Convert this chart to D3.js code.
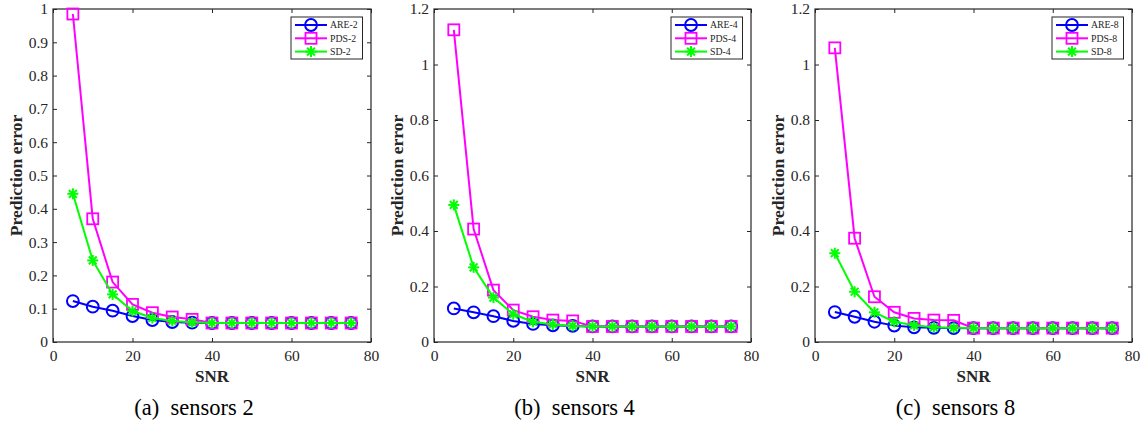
<!DOCTYPE html>
<html>
<head>
<meta charset="utf-8">
<script src="https://cdn.jsdelivr.net/npm/d3@7"></script>
<style>
  body { margin: 0; background: #fff; }
</style>
</head>
<body>
<svg id="fig" width="1146" height="424"></svg>
<script>
// x values shared by every panel
const snr = [5, 10, 15, 20, 25, 30, 35, 40, 45, 50, 55, 60, 65, 70, 75];
const xTicks = [0, 20, 40, 60, 80];

// (a) sensors 2
const are2 = [0.123, 0.106, 0.094, 0.078, 0.066, 0.060, 0.058, 0.057, 0.057, 0.057, 0.057, 0.057, 0.057, 0.057, 0.057];
const pds2 = [0.985, 0.37, 0.18, 0.113, 0.088, 0.075, 0.068, 0.057, 0.057, 0.057, 0.057, 0.057, 0.057, 0.057, 0.057];
const sd2  = [0.445, 0.245, 0.143, 0.093, 0.072, 0.063, 0.059, 0.057, 0.057, 0.057, 0.057, 0.057, 0.057, 0.057, 0.057];
// (b) sensors 4
const are4 = [0.121, 0.107, 0.093, 0.076, 0.065, 0.060, 0.058, 0.056, 0.056, 0.056, 0.056, 0.056, 0.056, 0.056, 0.056];
const pds4 = [1.125, 0.407, 0.187, 0.115, 0.091, 0.079, 0.076, 0.056, 0.056, 0.056, 0.056, 0.056, 0.056, 0.056, 0.056];
const sd4  = [0.494, 0.269, 0.160, 0.100, 0.073, 0.063, 0.058, 0.056, 0.056, 0.056, 0.056, 0.056, 0.056, 0.056, 0.056];
// (c) sensors 8
const are8 = [0.108, 0.091, 0.073, 0.059, 0.053, 0.051, 0.050, 0.050, 0.050, 0.050, 0.050, 0.050, 0.050, 0.050, 0.050];
const pds8 = [1.06, 0.374, 0.163, 0.107, 0.085, 0.079, 0.078, 0.050, 0.050, 0.050, 0.050, 0.050, 0.050, 0.050, 0.050];
const sd8  = [0.32, 0.181, 0.107, 0.073, 0.060, 0.053, 0.051, 0.050, 0.050, 0.050, 0.050, 0.050, 0.050, 0.050, 0.050];

const yTicks1 = [0, 0.1, 0.2, 0.3, 0.4, 0.5, 0.6, 0.7, 0.8, 0.9, 1];
const yTicks2 = [0, 0.2, 0.4, 0.6, 0.8, 1, 1.2];

const panels = [
  { left: 53, right: 371, ymax: 1, yTicks: yTicks1, n: 2, caption: "(a)\u00a0 sensors 2", series: [are2, pds2, sd2] },
  { left: 434, right: 751, ymax: 1.2, yTicks: yTicks2, n: 4, caption: "(b)\u00a0 sensors 4", series: [are4, pds4, sd4] },
  { left: 815, right: 1132, ymax: 1.2, yTicks: yTicks2, n: 8, caption: "(c)\u00a0 sensors 8", series: [are8, pds8, sd8] }
];

const names = ["ARE", "PDS", "SD"];
const colors = ["#0000ff", "#ff00ff", "#00ff00"];
const markers = ["circle", "square", "star"];

const plotTop = 9, plotBottom = 342;
const axisColor = "#262626";
const serif = "Liberation Serif";
const svg = d3.select("#fig");

function drawMarker(g, type, cx, cy, color) {
  if (type === "circle") {
    g.append("circle").attr("cx", cx).attr("cy", cy).attr("r", 5.9)
      .attr("fill", "none").attr("stroke", color).attr("stroke-width", 2);
  } else if (type === "square") {
    g.append("rect").attr("x", cx - 5.5).attr("y", cy - 5.5).attr("width", 11).attr("height", 11)
      .attr("fill", "none").attr("stroke", color).attr("stroke-width", 1.8);
  } else {
    const r = 5.5;
    for (let a = 0; a < 180; a += 45) {
      const t = a * Math.PI / 180;
      g.append("line")
        .attr("x1", cx - r * Math.cos(t)).attr("y1", cy - r * Math.sin(t))
        .attr("x2", cx + r * Math.cos(t)).attr("y2", cy + r * Math.sin(t))
        .attr("stroke", color).attr("stroke-width", 2);
    }
  }
}

panels.forEach(p => {
  const x = d3.scaleLinear().domain([0, 80]).range([p.left, p.right]);
  const y = d3.scaleLinear().domain([0, p.ymax]).range([plotBottom, plotTop]);
  const g = svg.append("g");

  // box
  g.append("rect").attr("x", p.left).attr("y", plotTop)
    .attr("width", p.right - p.left).attr("height", plotBottom - plotTop)
    .attr("fill", "#fff").attr("stroke", axisColor).attr("stroke-width", 1.2);

  // axes with inward ticks
  const fmt = d => String(+d.toFixed(1));
  const ax = [
    g.append("g").attr("transform", `translate(0,${plotBottom})`).call(d3.axisBottom(x).tickValues(xTicks).tickSizeInner(-4).tickSizeOuter(0).tickPadding(8)),
    g.append("g").attr("transform", `translate(0,${plotTop})`).call(d3.axisTop(x).tickValues(xTicks).tickSizeInner(-4).tickSizeOuter(0).tickFormat("")),
    g.append("g").attr("transform", `translate(${p.left},0)`).call(d3.axisLeft(y).tickValues(p.yTicks).tickSizeInner(-4).tickSizeOuter(0).tickPadding(5).tickFormat(fmt)),
    g.append("g").attr("transform", `translate(${p.right},0)`).call(d3.axisRight(y).tickValues(p.yTicks).tickSizeInner(-4).tickSizeOuter(0).tickFormat(""))
  ];
  ax.forEach(a => {
    a.select(".domain").remove();
    a.selectAll("line").attr("stroke", axisColor);
    a.selectAll("text").attr("fill", axisColor)
      .style("font-family", serif).style("font-size", "15.5px");
  });

  // series
  p.series.forEach((vals, i) => {
    const pts = snr.map((s, k) => [x(s), y(vals[k])]);
    g.append("path").attr("d", d3.line()(pts)).attr("fill", "none")
      .attr("stroke", colors[i]).attr("stroke-width", 2);
    pts.forEach(pt => drawMarker(g, markers[i], pt[0], pt[1], colors[i]));
  });

  // axis titles
  g.append("text").attr("x", (p.left + p.right) / 2).attr("y", 382)
    .attr("text-anchor", "middle").attr("fill", axisColor)
    .style("font-family", serif).style("font-weight", "bold").style("font-size", "17px")
    .text("SNR");
  g.append("text").attr("transform", `translate(${p.left - 31},${(plotTop + plotBottom) / 2}) rotate(-90)`)
    .attr("text-anchor", "middle").attr("fill", axisColor)
    .style("font-family", serif).style("font-weight", "bold").style("font-size", "17.5px")
    .text("Prediction error");

  // caption
  g.append("text").attr("x", (p.left + p.right) / 2 - 18).attr("y", 415)
    .attr("text-anchor", "middle").attr("fill", "#000")
    .style("font-family", serif).style("font-size", "22.5px")
    .text(p.caption);

  // legend
  const lx = p.right - 80, ly = 17;
  const lg = g.append("g");
  lg.append("rect").attr("x", lx).attr("y", ly).attr("width", 71.5).attr("height", 42)
    .attr("fill", "#fff").attr("stroke", axisColor).attr("stroke-width", 1);
  names.forEach((nm, i) => {
    const cy = ly + 8 + i * 13.3;
    lg.append("line").attr("x1", lx + 4).attr("x2", lx + 36).attr("y1", cy).attr("y2", cy)
      .attr("stroke", colors[i]).attr("stroke-width", 2);
    drawMarker(lg, markers[i], lx + 20, cy, colors[i]);
    lg.append("text").attr("x", lx + 39).attr("y", cy + 3.3).attr("fill", axisColor)
      .style("font-family", serif).style("font-size", "9.8px")
      .text(`${nm}-${p.n}`);
  });
});
</script>
</body>
</html>
